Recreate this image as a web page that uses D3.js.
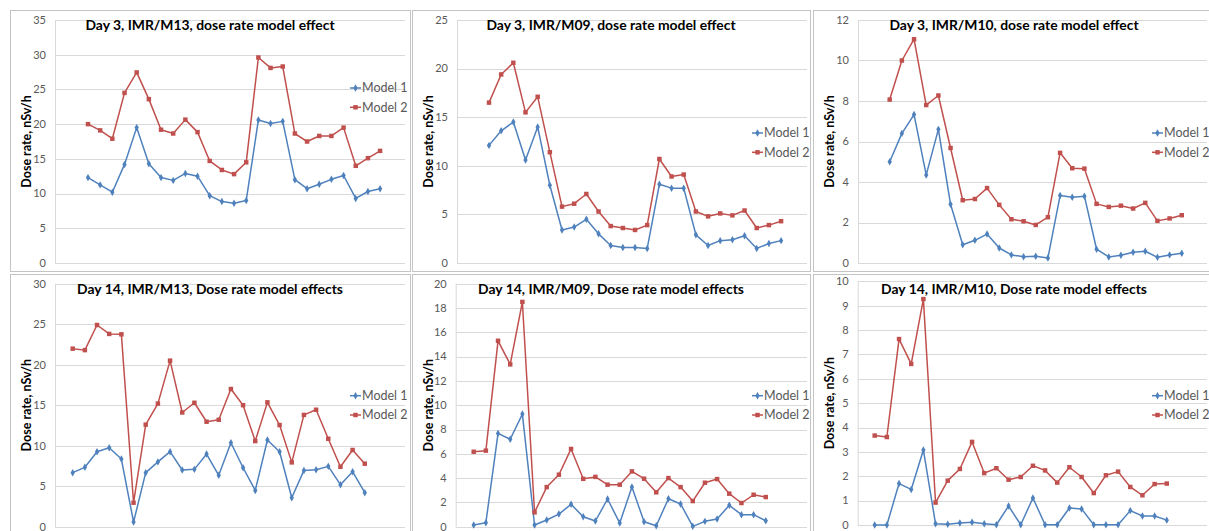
<!DOCTYPE html>
<html>
<head>
<meta charset="utf-8">
<script src="https://cdn.jsdelivr.net/npm/d3@7"></script>
<style>
  html, body { margin: 0; padding: 0; background: #ffffff; }
  svg { display: block; font-family: "Lato", "Liberation Sans", sans-serif; }
  .tick-label { font-size: 11px; fill: #595959; }
  .panel-title { font-size: 13.9px; font-weight: bold; fill: #000000; }
  .axis-title { font-size: 12.5px; font-weight: bold; fill: #000000; }
  .legend-label { font-size: 12.5px; fill: #595959; }
</style>
</head>
<body>
<div id="chart"></div>
<script>
// Six small dose-rate panels (Day 3 / Day 14, three IMR sites), Model 1 vs Model 2.

const seriesNames = ["Model 1", "Model 2"];

const panelTitles = [
  "Day 3, IMR/M13, dose rate model effect",
  "Day 3, IMR/M09, dose rate model effect",
  "Day 3, IMR/M10, dose rate model effect",
  "Day 14, IMR/M13, Dose rate model effects",
  "Day 14, IMR/M09, Dose rate model effects",
  "Day 14, IMR/M10, Dose rate model effects"
];

const yAxisTitle = "Dose rate, nSv/h";

// y axis max and tick step for each panel
const yMaxes = [35, 25, 12, 30, 20, 10];
const ySteps = [5, 5, 2, 5, 2, 1];

// values (25 sampling points per series)
const day3M13Model1 = [12.3, 11.25, 10.2, 14.2, 19.5, 14.3, 12.3, 11.9, 12.9, 12.5, 9.7, 8.85, 8.6, 9.0, 20.6, 20.1, 20.4, 12.0, 10.7, 11.35, 12.05, 12.6, 9.3, 10.3, 10.7];
const day3M13Model2 = [20.0, 19.1, 17.9, 24.5, 27.45, 23.6, 19.2, 18.65, 20.65, 18.85, 14.7, 13.4, 12.8, 14.5, 29.6, 28.1, 28.3, 18.65, 17.5, 18.3, 18.3, 19.5, 14.0, 15.1, 16.15];

const day3M09Model1 = [12.1, 13.6, 14.5, 10.6, 14.0, 8.0, 3.4, 3.7, 4.5, 3.0, 1.8, 1.6, 1.6, 1.5, 8.1, 7.7, 7.7, 2.9, 1.8, 2.3, 2.4, 2.8, 1.5, 2.0, 2.3];
const day3M09Model2 = [16.5, 19.4, 20.6, 15.5, 17.1, 11.4, 5.8, 6.1, 7.1, 5.3, 3.8, 3.6, 3.4, 3.9, 10.7, 8.9, 9.1, 5.3, 4.8, 5.1, 4.9, 5.4, 3.6, 3.9, 4.3];

const day3M10Model1 = [5.0, 6.4, 7.33, 4.35, 6.6, 2.9, 0.9, 1.12, 1.43, 0.74, 0.4, 0.31, 0.33, 0.25, 3.33, 3.25, 3.3, 0.68, 0.3, 0.38, 0.53, 0.58, 0.28, 0.4, 0.48];
const day3M10Model2 = [8.07, 10.0, 11.05, 7.8, 8.27, 5.68, 3.1, 3.16, 3.7, 2.87, 2.16, 2.06, 1.88, 2.26, 5.44, 4.68, 4.66, 2.92, 2.77, 2.83, 2.69, 2.97, 2.08, 2.2, 2.36];

const day14M13Model1 = [6.67, 7.33, 9.26, 9.75, 8.35, 0.58, 6.67, 8.0, 9.26, 7.0, 7.08, 8.97, 6.34, 10.37, 7.28, 4.48, 10.7, 9.26, 3.58, 6.95, 7.04, 7.45, 5.19, 6.79, 4.2];
const day14M13Model2 = [21.98, 21.8, 24.9, 23.8, 23.75, 2.96, 12.6, 15.2, 20.5, 14.1, 15.3, 12.96, 13.2, 17.0, 15.0, 10.57, 15.35, 12.55, 7.94, 13.8, 14.44, 10.86, 7.4, 9.47, 7.78];

const day14M09Model1 = [0.14, 0.33, 7.68, 7.2, 9.27, 0.14, 0.55, 1.04, 1.84, 0.82, 0.47, 2.28, 0.3, 3.26, 0.41, 0.08, 2.3, 1.87, 0.03, 0.44, 0.63, 1.76, 0.99, 0.99, 0.49];
const day14M09Model2 = [6.17, 6.26, 15.3, 13.36, 18.5, 1.18, 3.26, 4.28, 6.4, 3.94, 4.1, 3.46, 3.46, 4.55, 3.95, 2.83, 4.0, 3.26, 2.11, 3.62, 3.92, 2.72, 1.95, 2.63, 2.44];

const day14M10Model1 = [0, 0, 1.7, 1.46, 3.08, 0.05, 0.03, 0.08, 0.11, 0.05, 0.01, 0.78, 0.01, 1.11, 0.01, 0.01, 0.7, 0.66, 0.01, 0.01, 0.01, 0.59, 0.37, 0.37, 0.2];
const day14M10Model2 = [3.67, 3.61, 7.63, 6.61, 9.27, 0.92, 1.82, 2.3, 3.41, 2.13, 2.33, 1.86, 1.97, 2.43, 2.24, 1.74, 2.37, 1.97, 1.31, 2.04, 2.19, 1.56, 1.22, 1.68, 1.7];

const panelSeries = [
  [day3M13Model1, day3M13Model2],
  [day3M09Model1, day3M09Model2],
  [day3M10Model1, day3M10Model2],
  [day14M13Model1, day14M13Model2],
  [day14M09Model1, day14M09Model2],
  [day14M10Model1, day14M10Model2]
];

(function () {
  const W = 1209, H = 531;
  const colors = ["#4f81bd", "#c0504d"];

  // chart-area boxes and plot areas, in page pixels
  const layout = [
    { box: [10, 10, 410, 271],    plot: [55, 20, 405, 263],         first: 33,   legend: [350, 88] },
    { box: [412, 10, 810, 271],   plot: [457, 20, 807, 263],        first: 32,   legend: [752, 133] },
    { box: [813, 10, 1215, 271],  plot: [858, 20, 1207, 263],       first: 31.7, legend: [1152, 133] },
    { box: [10, 274, 410, 540],   plot: [55, 283.7, 405, 526.7],    first: 17.7, legend: [350, 395.7] },
    { box: [412, 274, 810, 540],  plot: [455.7, 283.7, 807, 526.7], first: 18,   legend: [752, 395.7] },
    { box: [813, 274, 1215, 540], plot: [857.7, 281.3, 1207, 525],  first: 17,   legend: [1152, 395.7] }
  ];
  const pointStep = 12.17;
  const legendGap = 19.3;

  const svg = d3.select("#chart").append("svg")
    .attr("width", W)
    .attr("height", H);

  svg.append("rect").attr("width", W).attr("height", H).attr("fill", "#ffffff");

  function drawPanel(i) {
    const L = layout[i];
    const [bx0, by0, bx1, by1] = L.box;
    const [px0, py0, px1, py1] = L.plot;
    const g = svg.append("g").attr("class", "panel");

    g.append("rect")
      .attr("x", bx0 + 0.5).attr("y", by0 + 0.5)
      .attr("width", bx1 - bx0).attr("height", by1 - by0)
      .attr("fill", "#ffffff")
      .attr("stroke", "#c4c4c4");

    const y = d3.scaleLinear().domain([0, yMaxes[i]]).range([py1, py0]);
    const n = panelSeries[i][0].length;
    const x = d3.scaleLinear()
      .domain([0, n - 1])
      .range([px0 + L.first, px0 + L.first + pointStep * (n - 1)]);

    const ticks = d3.range(0, yMaxes[i] + ySteps[i] / 2, ySteps[i]);

    // gridlines
    g.append("g").selectAll("line")
      .data(ticks)
      .join("line")
      .attr("x1", px0).attr("x2", px1)
      .attr("y1", d => Math.round(y(d)) + 0.5)
      .attr("y2", d => Math.round(y(d)) + 0.5)
      .attr("stroke", "#d9d9d9")
      .attr("stroke-width", 1);

    g.append("line")
      .attr("x1", px0 + 0.5).attr("x2", px0 + 0.5)
      .attr("y1", py0).attr("y2", py1)
      .attr("stroke", "#d9d9d9");

    // y axis tick labels
    g.append("g").selectAll("text")
      .data(ticks)
      .join("text")
      .attr("class", "tick-label")
      .attr("x", px0 - 9)
      .attr("y", d => y(d))
      .attr("dy", "0.35em")
      .attr("text-anchor", "end")
      .text(d => d);

    // titles
    g.append("text")
      .attr("class", "panel-title")
      .attr("x", (bx0 + bx1) / 2)
      .attr("y", by0 + 19.5)
      .attr("text-anchor", "middle")
      .text(panelTitles[i]);

    g.append("text")
      .attr("class", "axis-title")
      .attr("transform", `translate(${bx0 + 17},${(py0 + py1) / 2}) rotate(-90)`)
      .attr("text-anchor", "middle")
      .attr("dy", "0.35em")
      .text(yAxisTitle);

    // series
    const line = d3.line().x((d, k) => x(k)).y(d => y(d));
    const symbols = [d3.symbol(d3.symbolDiamond, 16), d3.symbol(d3.symbolSquare, 20)];

    panelSeries[i].forEach((vals, s) => {
      g.append("path")
        .datum(vals)
        .attr("fill", "none")
        .attr("stroke", colors[s])
        .attr("stroke-width", 1.5)
        .attr("stroke-linejoin", "round")
        .attr("d", line);

      g.append("g").selectAll("path")
        .data(vals)
        .join("path")
        .attr("transform", (d, k) => `translate(${x(k)},${y(d)})`)
        .attr("d", symbols[s]())
        .attr("fill", colors[s]);
    });

    // legend
    const [lx, ly0] = L.legend;
    seriesNames.forEach((name, s) => {
      const ly = ly0 + s * legendGap;
      const lg = g.append("g").attr("transform", `translate(${lx},${ly})`);
      lg.append("line")
        .attr("x1", 0).attr("x2", 11)
        .attr("stroke", colors[s])
        .attr("stroke-width", 1.5);
      lg.append("path")
        .attr("transform", "translate(5.5,0)")
        .attr("d", symbols[s]())
        .attr("fill", colors[s]);
      lg.append("text")
        .attr("class", "legend-label")
        .attr("x", 12)
        .attr("dy", "0.35em")
        .text(name);
    });
  }

  panelTitles.forEach((t, i) => drawPanel(i));
})();
</script>
</body>
</html>
